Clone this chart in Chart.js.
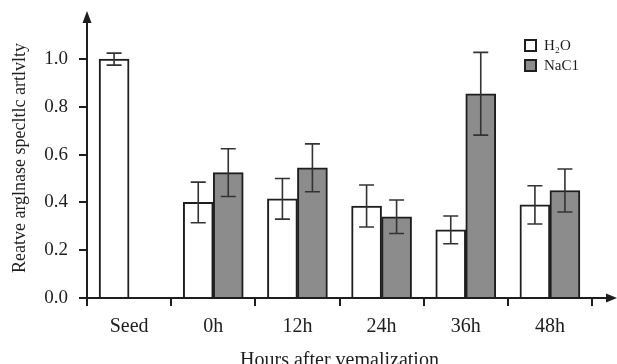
<!DOCTYPE html>
<html>
<head>
<meta charset="utf-8">
<script src="https://cdn.jsdelivr.net/npm/chart.js@4.4.0/dist/chart.umd.min.js"></script>
<style>
  html, body { margin: 0; padding: 0; background: #fff; }
  #wrap { width: 617px; height: 364px; position: relative; }
</style>
</head>
<body>
<div id="wrap"><canvas id="grafik"></canvas></div>
<script>
// data
var categories = ['Seed', '0h', '12h', '24h', '36h', '48h'];
var h2oValues = [1.0, 0.40, 0.415, 0.385, 0.285, 0.39];
var h2oErrors = [0.025, 0.085, 0.085, 0.088, 0.058, 0.08];
var naclValues = [null, 0.525, 0.545, 0.34, 0.855, 0.45];
var naclErrors = [null, 0.10, 0.10, 0.07, 0.173, 0.09];
var yTicks = [0, 0.2, 0.4, 0.6, 0.8, 1.0];
var yTitle = 'Reatve arglnase specltlc artlvlty';
var xTitle = 'Hours after vemalization';

var errorSets = [h2oErrors, naclErrors];
var ink = '#1e1e1e';
var serif = "'Liberation Serif', 'DejaVu Serif', serif";

// error bars on top of the bars
var errorBars = {
    id: 'errorBars',
    afterDatasetsDraw: function(chart) {
        var ctx = chart.ctx;
        var yScale = chart.scales.y;
        ctx.save();
        ctx.strokeStyle = '#333';
        ctx.lineWidth = 1.6;
        chart.data.datasets.forEach(function(ds, di) {
            var meta = chart.getDatasetMeta(di);
            meta.data.forEach(function(bar, i) {
                var v = ds.data[i];
                var e = errorSets[di][i];
                if (v == null || e == null) return;
                var x = bar.x;
                var yTop = yScale.getPixelForValue(v + e);
                var yBot = yScale.getPixelForValue(v - e);
                ctx.beginPath();
                ctx.moveTo(x, yTop); ctx.lineTo(x, yBot);
                ctx.moveTo(x - 7.5, yTop); ctx.lineTo(x + 7.5, yTop);
                ctx.moveTo(x - 7.5, yBot); ctx.lineTo(x + 7.5, yBot);
                ctx.stroke();
            });
        });
        ctx.restore();
    }
};

// axis arrows, y title and legend
var extras = {
    id: 'extras',
    afterDraw: function(chart) {
        var ctx = chart.ctx;
        var a = chart.chartArea;
        ctx.save();
        ctx.strokeStyle = ink;
        ctx.fillStyle = ink;
        ctx.lineWidth = 2;
        // x axis extension + head
        ctx.beginPath();
        ctx.moveTo(a.right, a.bottom);
        ctx.lineTo(609, a.bottom);
        ctx.stroke();
        ctx.beginPath();
        ctx.moveTo(617, a.bottom);
        ctx.lineTo(606, a.bottom - 4.5);
        ctx.lineTo(606, a.bottom + 4.5);
        ctx.closePath();
        ctx.fill();
        // y axis extension + head
        ctx.beginPath();
        ctx.moveTo(a.left, a.top);
        ctx.lineTo(a.left, 20);
        ctx.stroke();
        ctx.beginPath();
        ctx.moveTo(a.left, 11);
        ctx.lineTo(a.left - 4.5, 23);
        ctx.lineTo(a.left + 4.5, 23);
        ctx.closePath();
        ctx.fill();

        // y title
        ctx.save();
        ctx.translate(20, 158);
        ctx.rotate(-Math.PI / 2);
        ctx.font = '18px ' + serif;
        ctx.textAlign = 'center';
        ctx.textBaseline = 'middle';
        ctx.fillText(yTitle, 0, 0);
        ctx.restore();

        // legend
        ctx.font = '15px ' + serif;
        ctx.textBaseline = 'middle';
        ctx.textAlign = 'left';
        chart.data.datasets.forEach(function(ds, di) {
            var bx = 524, by = 39 + di * 20;
            ctx.fillStyle = ds.backgroundColor;
            ctx.fillRect(bx, by, 13, 13);
            ctx.lineWidth = 2;
            ctx.strokeStyle = ink;
            ctx.strokeRect(bx + 1, by + 1, 11, 11);
            ctx.fillStyle = ink;
            ctx.fillText(ds.label, 544, by + 7);
        });
        ctx.restore();
    }
};

var ctx = document.getElementById('grafik').getContext('2d');
var myChart = new Chart(ctx, {
    type: 'bar',
    data: {
        labels: categories,
        datasets: [{
            label: 'H₂O',
            data: h2oValues,
            backgroundColor: '#ffffff',
            borderColor: ink,
            borderWidth: 2,
            barThickness: 30
        }, {
            label: 'NaC1',
            data: naclValues,
            backgroundColor: '#8c8c8c',
            borderColor: ink,
            borderWidth: 2,
            barThickness: 30
        }]
    },
    options: {
        responsive: true,
        maintainAspectRatio: false,
        animation: false,
        layout: { padding: { top: 40, right: 25, left: 0, bottom: 0 } },
        plugins: {
            legend: { display: false },
            tooltip: { enabled: false }
        },
        scales: {
            x: {
                grid: { display: true, drawOnChartArea: false, drawTicks: true, tickLength: 8, color: ink, lineWidth: 2, offset: true },
                border: { display: true, color: ink, width: 2 },
                ticks: { color: ink, font: { family: serif, size: 20 }, padding: 9, maxRotation: 0 },
                title: { display: true, text: xTitle, color: ink, font: { family: serif, size: 20 }, padding: { top: 0, bottom: -9 } },
                afterFit: function(scale) { scale.height = 66; }
            },
            y: {
                min: 0,
                max: 1.08,
                afterBuildTicks: function(scale) {
                    scale.ticks = yTicks.map(function(v) { return { value: v }; });
                },
                grid: { display: true, drawOnChartArea: false, drawTicks: true, tickLength: 8, color: ink, lineWidth: 2 },
                border: { display: true, color: ink, width: 2 },
                ticks: {
                    color: ink,
                    font: { family: serif, size: 19 },
                    padding: 11,
                    callback: function(v) { return Number(v).toFixed(1); }
                },
                title: { display: false },
                afterFit: function(scale) { scale.width = 87; }
            }
        }
    },
    plugins: [errorBars, extras]
});
</script>
</body>
</html>
